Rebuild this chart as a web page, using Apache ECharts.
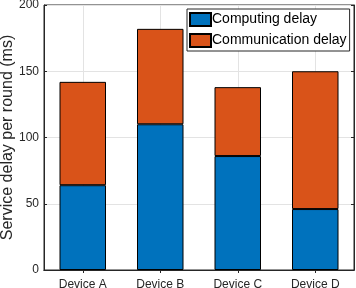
<!DOCTYPE html>
<html><head><meta charset="utf-8">
<script src="https://cdn.jsdelivr.net/npm/echarts@6/dist/echarts.min.js"></script>
<style>html,body{margin:0;padding:0;background:#fff}#c{width:356px;height:288px}</style>
</head><body><div id="c"></div>
<script>
const categories = ['Device A', 'Device B', 'Device C', 'Device D'];
const computingDelay = [64, 110, 86, 46];
const communicationDelay = [78, 72, 52, 104];
const yTicks = { min: 0, max: 200, interval: 50 };
const seriesNames = ['Computing delay', 'Communication delay'];

const FONT = 'Liberation Sans, Arial, Helvetica, sans-serif';
const AX = '#262626';
const GRIDC = '#e3e3e3';
const chart = echarts.init(document.getElementById('c'), null, { renderer: 'canvas' });
chart.setOption({
  animation: false,
  textStyle: { fontFamily: FONT },
  grid: { left: 44, right: 2, top: 5, bottom: 18, containLabel: false, outerBoundsMode: 'none',
          show: true, borderColor: AX, borderWidth: 1, backgroundColor: '#fff' },
  legend: {
    orient: 'vertical', left: 187, top: 9,
    padding: [3, 3, 3, 2], itemGap: 6, itemWidth: 21, itemHeight: 13,
    borderColor: AX, borderWidth: 1, backgroundColor: '#fff', borderRadius: 0,
    textStyle: { fontSize: 14, color: '#000', fontFamily: FONT, lineHeight: 14, padding: [0, 0, 0, -4] },
    data: seriesNames.map(n => ({ name: n, icon: 'rect' })),
    z: 10
  },
  xAxis: [{
    type: 'category', data: categories, position: 'bottom',
    axisLine: { show: true, lineStyle: { color: AX, width: 1 } },
    axisTick: { show: true, inside: true, alignWithLabel: true, length: 3, lineStyle: { color: AX } },
    axisLabel: { fontSize: 12, color: AX, margin: 9, fontFamily: FONT },
    splitLine: { show: false }
  }, {
    type: 'category', data: categories, position: 'top',
    axisLine: { show: true, lineStyle: { color: AX, width: 1 } },
    axisTick: { show: true, inside: true, alignWithLabel: true, length: 3, lineStyle: { color: AX } },
    axisLabel: { show: false }, splitLine: { show: false }
  }],
  yAxis: [{
    type: 'value', min: yTicks.min, max: yTicks.max, interval: yTicks.interval,
    name: 'Service delay per round (ms)', nameLocation: 'middle', nameGap: 28, nameMoveOverlap: false,
    nameTextStyle: { fontSize: 16, color: AX, fontFamily: FONT },
    axisLine: { show: true, lineStyle: { color: AX, width: 1 } },
    axisTick: { show: true, inside: true, length: 3, lineStyle: { color: AX } },
    axisLabel: { fontSize: 12, color: AX, margin: 5, fontFamily: FONT },
    splitLine: { show: true, lineStyle: { color: GRIDC, width: 1 } }
  }, {
    type: 'value', min: yTicks.min, max: yTicks.max, interval: yTicks.interval, position: 'right',
    axisLine: { show: true, lineStyle: { color: AX, width: 1 } },
    axisTick: { show: true, inside: true, length: 3, lineStyle: { color: AX } },
    axisLabel: { show: false }, splitLine: { show: false }
  }],
  series: [{
    name: 'vgrid', type: 'line', data: [], z: 1, silent: true,
    markLine: {
      silent: true, symbol: ['none', 'none'], z: 1, label: { show: false },
      lineStyle: { color: GRIDC, width: 1, type: 'solid' },
      data: categories.map(c => ({ xAxis: c }))
    }
  }, {
    name: seriesNames[0], type: 'bar', stack: 'd', data: computingDelay, barWidth: '60%', z: 3,
    itemStyle: { color: '#0072BD', borderColor: '#000', borderWidth: 1 }
  }, {
    name: seriesNames[1], type: 'bar', stack: 'd', data: communicationDelay, barWidth: '60%', z: 3,
    itemStyle: { color: '#D95319', borderColor: '#000', borderWidth: 1 }
  }]
});
</script></body></html>
